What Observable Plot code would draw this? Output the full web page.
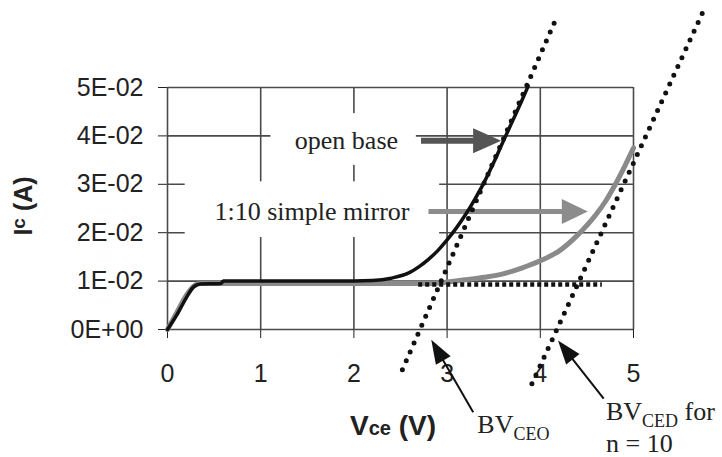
<!DOCTYPE html>
<html><head><meta charset="utf-8">
<script src="https://cdn.jsdelivr.net/npm/d3@7"></script>
<script src="https://cdn.jsdelivr.net/npm/@observablehq/plot@0.6"></script>
<style>body{margin:0;background:#fff} #chart svg{display:block}</style>
</head><body><div id="chart"></div>
<script>
// ---- axes ----
const xTickLabels = ["0","1","2","3","4","5"];
const yTickLabels = ["0E+00","1E-02","2E-02","3E-02","4E-02","5E-02"];
const gridV = [1,2,3,4,5];
const gridI = [0.01,0.02,0.03,0.04,0.05];

// ---- measured curves ----
const openBaseV = [0,0.1,0.2,0.28,0.35,0.57,0.6,1,1.5,2.0,2.2,2.4,2.6,2.7,2.8,2.9,3.0,3.1,3.2,3.3,3.4,3.5,3.6,3.7,3.8,3.87];
const openBaseI = [0,0.003,0.0065,0.0088,0.0094,0.0095,0.01,0.01,0.01,0.01,0.0101,0.0106,0.0118,0.013,0.0145,0.0163,0.0185,0.021,0.0238,0.027,0.0305,0.0345,0.0388,0.043,0.0472,0.0503];
const mirrorV = [0,0.1,0.2,0.3,0.35,0.5,1,2,2.8,3.0,3.2,3.4,3.6,3.8,4.0,4.2,4.4,4.6,4.7,4.8,4.9,5.0];
const mirrorI = [0,0.0035,0.007,0.0092,0.0095,0.0095,0.0095,0.0095,0.0095,0.0098,0.0103,0.0108,0.0115,0.0127,0.0142,0.0162,0.0195,0.0238,0.0265,0.0298,0.0335,0.0375];

// ---- construction lines (dotted) ----
const bvceoLineV = [2.52, 4.18];
const bvceoLineI = [-0.0083, 0.0647];
const bvcedLineV = [3.91, 5.74];
const bvcedLineI = [-0.0112, 0.0654];
const satLineV = [2.69, 4.66];
const satLineI = [0.0093, 0.0093];

// ---- annotations ----
const labelText = ["open base", "1:10 simple mirror"];
const labelV = [1.92, 1.55];
const labelI = [0.039, 0.0244];
const boxV1 = [1.11, 0.19], boxV2 = [2.67, 2.92];
const boxI1 = [0.0339, 0.0190], boxI2 = [0.0446, 0.0305];

const arrowFromV = [2.72, 2.80, 3.28, 4.68];
const arrowFromI = [0.039, 0.0244, -0.0171, -0.01426];
const arrowToV = [3.58, 4.51, 2.83, 4.19];
const arrowToI = [0.039, 0.0244, -0.0021, -0.00227];

const bvLabelV = [3.33, 4.71];
const bvLabelI = [-0.0215, -0.0188];
const bvSub = ["CEO", "CED"];
const bvTail = ["", " for"];
const nLabel = "n = 10";
const nLabelV = 4.71, nLabelI = -0.0254;

// ---- layout ----
const W = 722, H = 457, mL = 167, mR = 89, mT = 87, mB = 128;
const sx = d3.scaleLinear([0, 5], [mL, W - mR]);
const sy = d3.scaleLinear([0, 0.05], [H - mB, mT]);

function arrowGeom(i, len, wid) {
  const px1 = sx(arrowFromV[i]), py1 = sy(arrowFromI[i]);
  const px2 = sx(arrowToV[i]), py2 = sy(arrowToI[i]);
  const dx = px2 - px1, dy = py2 - py1, d = Math.hypot(dx, dy), ux = dx / d, uy = dy / d;
  const bx = px2 - ux * len, by = py2 - uy * len, nx = -uy, ny = ux;
  const head = [[px2, py2], [bx + nx * wid / 2, by + ny * wid / 2], [bx - nx * wid / 2, by - ny * wid / 2], [px2, py2]]
    .map(([a, b]) => ({x: sx.invert(a), y: sy.invert(b)}));
  const shaft = {x1: arrowFromV[i], y1: arrowFromI[i], x2: sx.invert(bx + ux * 2), y2: sy.invert(by + uy * 2)};
  return {head, shaft};
}
const arrowStyles = [
  {color: "#555", len: 28, wid: 25, sw: 6},
  {color: "#8c8c8c", len: 26, wid: 25, sw: 5},
  {color: "#111", len: 24, wid: 17, sw: 2},
  {color: "#111", len: 24, wid: 17, sw: 2}
];
const arrowMarks = arrowStyles.flatMap((s, i) => {
  const g = arrowGeom(i, s.len, s.wid);
  return [
    Plot.link([g.shaft], {x1: "x1", y1: "y1", x2: "x2", y2: "y2", stroke: s.color, strokeWidth: s.sw, strokeLinecap: "butt"}),
    Plot.line(g.head, {x: "x", y: "y", fill: s.color, stroke: "none"})
  ];
});

const serif = "'Liberation Serif', 'Times New Roman', serif";
const sans = "'Liberation Sans', Arial, sans-serif";

const plot = Plot.plot({
  width: W, height: H,
  marginLeft: mL, marginRight: mR, marginTop: mT, marginBottom: mB,
  style: {fontFamily: sans, fontSize: "25px", color: "#222", background: "#fff"},
  x: {domain: [0, 5], ticks: 5, tickSize: 9, tickPadding: 26, label: null, tickFormat: d => xTickLabels[Math.round(d)]},
  y: {domain: [0, 0.05], ticks: 5, tickSize: 9, tickPadding: 15, label: null, tickFormat: d => yTickLabels[Math.round(d * 100)]},
  marks: [
    Plot.ruleY(gridI, {stroke: "#4a4a4a", strokeWidth: 1.6}),
    Plot.ruleX(gridV, {stroke: "#4a4a4a", strokeWidth: 1.6}),
    Plot.rect(labelText, {x1: boxV1, x2: boxV2, y1: boxI1, y2: boxI2, fill: "#fff"}),
    Plot.ruleX([0], {stroke: "#4a4a4a", strokeWidth: 1.6}),
    Plot.ruleY([0], {stroke: "#4a4a4a", strokeWidth: 1.6}),
    ...arrowMarks,
    Plot.line(mirrorV, {x: mirrorV, y: mirrorI, stroke: "#8a8a8a", strokeWidth: 5, curve: "monotone-x"}),
    Plot.line(openBaseV, {x: openBaseV, y: openBaseI, stroke: "#111", strokeWidth: 3.5, curve: "monotone-x"}),
    Plot.line(satLineV, {x: satLineV, y: satLineI, stroke: "#111", strokeWidth: 4.5, strokeDasharray: "4,3", strokeLinecap: "butt"}),
    Plot.line(bvceoLineV, {x: bvceoLineV, y: bvceoLineI, stroke: "#111", strokeWidth: 5, strokeDasharray: "0,9.7", strokeLinecap: "round"}),
    Plot.line(bvcedLineV, {x: bvcedLineV, y: bvcedLineI, stroke: "#111", strokeWidth: 5, strokeDasharray: "0,9.7", strokeLinecap: "round"}),
    Plot.text(labelText, {x: labelV, y: labelI, text: d => d, fontFamily: serif, fontSize: 26, fill: "#222"})
  ]
});
document.getElementById("chart").appendChild(plot);

// ---- titles and labels with subscripts ----
const svg = d3.select(plot);
const sxp = v => plot.scale("x").apply(v), syp = v => plot.scale("y").apply(v);

const yt = svg.append("text").attr("transform", "translate(32,206) rotate(-90)")
  .attr("text-anchor", "middle").attr("fill", "#222").style("font-weight", "bold")
  .style("font-family", sans).style("font-size", "25px");
yt.append("tspan").text("I");
yt.append("tspan").attr("dy", -7).style("font-size", "19px").text("c");
yt.append("tspan").attr("dy", 7).text(" (A)");

const xt = svg.append("text").attr("x", 350).attr("y", 435)
  .attr("text-anchor", "start").attr("fill", "#222").style("font-weight", "bold")
  .style("font-family", sans).style("font-size", "28px");
xt.append("tspan").text("V");
xt.append("tspan").style("font-size", "20px").text("ce");
xt.append("tspan").text(" (V)");

bvSub.forEach((sub, i) => {
  const t = svg.append("text").attr("x", sxp(bvLabelV[i])).attr("y", syp(bvLabelI[i]))
    .attr("text-anchor", "start").attr("fill", "#222").style("font-family", serif).style("font-size", "26px");
  t.append("tspan").text("BV");
  t.append("tspan").attr("dy", 7).style("font-size", "18px").text(sub);
  if (bvTail[i]) t.append("tspan").attr("dy", -7).text(bvTail[i]);
});
svg.append("text").attr("x", sxp(nLabelV)).attr("y", syp(nLabelI)).attr("text-anchor", "start").attr("fill", "#222")
  .style("font-family", serif).style("font-size", "26px").text(nLabel);
</script>
</body></html>
